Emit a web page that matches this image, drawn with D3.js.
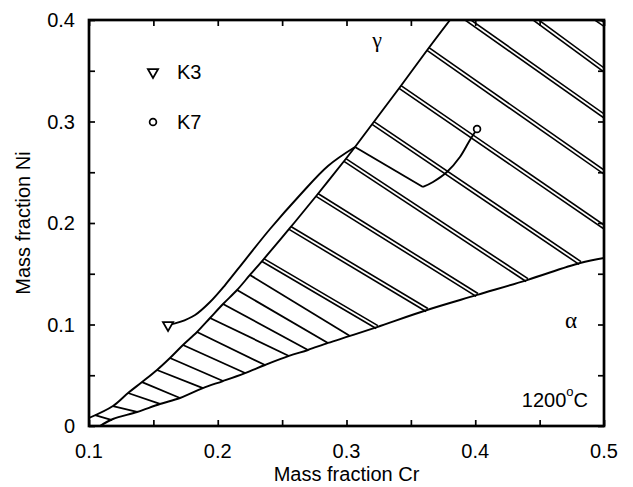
<!DOCTYPE html>
<html>
  <head>
    <title>Cr-Ni section at 1200C</title>
    <script src="https://d3js.org/d3.v7.min.js" charset="utf-8"></script>
    <style type="text/css">
      body { margin: 0; background: #fff; }
      text { font-family: "Liberation Sans", Arial, sans-serif; fill: #000; }
    </style>
  </head>
  <body>
    <script type="text/javascript">

      // Chart data (mass fractions)
      var xTicks = [0.1, 0.2, 0.3, 0.4, 0.5];
      var yTicks = [0, 0.1, 0.2, 0.3, 0.4];
      var yTickLabels = ["0", "0.1", "0.2", "0.3", "0.4"];

      // gamma phase boundary [Cr, Ni]
      var gammaLine = [[0.1, 0.0079], [0.1186, 0.0197], [0.1303, 0.0325], [0.1412, 0.0433],
        [0.1528, 0.0552], [0.1629, 0.067], [0.173, 0.0798], [0.1839, 0.0926], [0.194, 0.1064],
        [0.2041, 0.1202], [0.215, 0.134], [0.225, 0.1488], [0.2351, 0.1635], [0.2561, 0.1951],
        [0.2771, 0.2276], [0.2988, 0.2621], [0.3066, 0.2749], [0.3206, 0.2985], [0.3416, 0.334],
        [0.3633, 0.3714], [0.3804, 0.4]];

      // alpha phase boundary [Cr, Ni]
      var alphaLine = [[0.1085, 0], [0.1186, 0.0069], [0.1373, 0.0138], [0.1551, 0.0217],
        [0.1707, 0.0276], [0.1885, 0.0374], [0.2041, 0.0443], [0.2212, 0.0522], [0.2367, 0.0601],
        [0.2553, 0.069], [0.2701, 0.0749], [0.2856, 0.0818], [0.3027, 0.0887], [0.3237, 0.0975],
        [0.3625, 0.1143], [0.4014, 0.1291], [0.4402, 0.1438], [0.4814, 0.1606], [0.5, 0.1655]];

      // tie lines drawn double [Cr1, Ni1, Cr2, Ni2]
      var tieDouble = [[0.4837, 0.4099, 0.5078, 0.389], [0.4355, 0.4108, 0.5078, 0.3435],
        [0.3827, 0.4104, 0.5078, 0.2985], [0.3633, 0.3714, 0.5078, 0.2433],
        [0.3416, 0.334, 0.5078, 0.1893], [0.3206, 0.2985, 0.4814, 0.1606],
        [0.2988, 0.2621, 0.4402, 0.1438], [0.2771, 0.2276, 0.4014, 0.1291],
        [0.2561, 0.1951, 0.3625, 0.1143], [0.2351, 0.1635, 0.3237, 0.0975]];

      // tie lines drawn single
      var tieSingle = [[0.225, 0.1488, 0.3027, 0.0887], [0.215, 0.134, 0.2856, 0.0818],
        [0.2041, 0.1202, 0.2701, 0.0749], [0.194, 0.1064, 0.2553, 0.069],
        [0.1839, 0.0926, 0.2367, 0.0601], [0.173, 0.0798, 0.2212, 0.0522],
        [0.1629, 0.067, 0.2041, 0.0443], [0.1528, 0.0552, 0.1885, 0.0374],
        [0.1412, 0.0433, 0.1707, 0.0276], [0.1303, 0.0325, 0.1551, 0.0217],
        [0.1186, 0.0197, 0.1373, 0.0138], [0.1047, 0.0108, 0.1179, 0.0059]];

      // diffusion paths
      var k3Path = [[0.1614, 0.0995], [0.1707, 0.1025], [0.1824, 0.1094], [0.1940, 0.1222],
        [0.2057, 0.1389], [0.2212, 0.1635], [0.2406, 0.1941], [0.2639, 0.2276],
        [0.2856, 0.2562], [0.3066, 0.2749]];
      var k7Path = [[0.4014, 0.2926], [0.3959, 0.2818], [0.3881, 0.265], [0.378, 0.2502],
        [0.3672, 0.2404], [0.3594, 0.2355]];
      var k7Tie = [[0.3594, 0.2355], [0.3066, 0.2749]];

      var width = 633;
      var height = 487;
      var margin = {left: 89, right: 29, top: 20, bottom: 61};
      var fontSize = "20px";

      var x = d3.scaleLinear().domain([0.1, 0.5]).range([margin.left, width - margin.right]);
      var y = d3.scaleLinear().domain([0, 0.4]).range([height - margin.bottom, margin.top]);

      var svg = d3.select("body")
          .append("svg")
          .attr("width", width)
          .attr("height", height);

      svg.append("clipPath").attr("id", "plotclip")
        .append("rect")
          .attr("x", x(0.1)).attr("y", y(0.4))
          .attr("width", x(0.5) - x(0.1)).attr("height", y(0) - y(0.4));

      var plot = svg.append("g").attr("clip-path", "url(#plotclip)");

      // double tie lines: thick black with a white core
      plot.selectAll(".tieOuter").data(tieDouble).enter().append("line")
          .attr("x1", function(d) { return x(d[0]); })
          .attr("y1", function(d) { return y(d[1]); })
          .attr("x2", function(d) { return x(d[2]); })
          .attr("y2", function(d) { return y(d[3]); })
          .style("stroke", "#000").style("stroke-width", 5);
      plot.selectAll(".tieInner").data(tieDouble).enter().append("line")
          .attr("x1", function(d) { return x(d[0]); })
          .attr("y1", function(d) { return y(d[1]); })
          .attr("x2", function(d) { return x(d[2]); })
          .attr("y2", function(d) { return y(d[3]); })
          .style("stroke", "#fff").style("stroke-width", 1.8);

      plot.selectAll(".tieSingle").data(tieSingle).enter().append("line")
          .attr("x1", function(d) { return x(d[0]); })
          .attr("y1", function(d) { return y(d[1]); })
          .attr("x2", function(d) { return x(d[2]); })
          .attr("y2", function(d) { return y(d[3]); })
          .style("stroke", "#000").style("stroke-width", 1.8);

      var smooth = d3.line()
          .x(function(d) { return x(d[0]); })
          .y(function(d) { return y(d[1]); })
          .curve(d3.curveCatmullRom);
      var straight = d3.line()
          .x(function(d) { return x(d[0]); })
          .y(function(d) { return y(d[1]); });

      [gammaLine, alphaLine, k3Path, k7Path].forEach(function(p) {
        plot.append("path").attr("d", smooth(p))
            .style("fill", "none").style("stroke", "#000").style("stroke-width", 1.9);
      });
      plot.append("path").attr("d", straight(k7Tie))
          .style("fill", "none").style("stroke", "#000").style("stroke-width", 1.9);

      // markers
      var tri = d3.symbol().type(d3.symbolTriangle).size(46);
      plot.append("path").attr("d", tri())
          .attr("transform", "translate(" + x(k3Path[0][0]) + "," + y(k3Path[0][1]) + ") rotate(180)")
          .style("fill", "#fff").style("stroke", "#000").style("stroke-width", 1.7);
      plot.append("circle")
          .attr("cx", x(k7Path[0][0])).attr("cy", y(k7Path[0][1])).attr("r", 3.4)
          .style("fill", "#fff").style("stroke", "#000").style("stroke-width", 1.7);

      // legend
      svg.append("path").attr("d", tri())
          .attr("transform", "translate(153,72) rotate(180)")
          .style("fill", "#fff").style("stroke", "#000").style("stroke-width", 1.7);
      svg.append("text").attr("x", 177).attr("y", 79).style("font-size", fontSize).text("K3");
      svg.append("circle").attr("cx", 153).attr("cy", 122).attr("r", 3.4)
          .style("fill", "#fff").style("stroke", "#000").style("stroke-width", 1.7);
      svg.append("text").attr("x", 177).attr("y", 129).style("font-size", fontSize).text("K7");

      // phase labels
      svg.append("text").attr("x", 377).attr("y", 47).attr("text-anchor", "middle")
          .style("font-family", "'Liberation Serif', serif").style("font-size", "22px").text("γ");
      svg.append("text").attr("x", 571).attr("y", 328).attr("text-anchor", "middle")
          .style("font-family", "'Liberation Serif', serif").style("font-size", "23px").text("α");

      var temp = svg.append("text").attr("x", 588).attr("y", 407)
          .attr("text-anchor", "end").style("font-size", fontSize);
      temp.append("tspan").text("1200");
      temp.append("tspan").attr("dy", -11).style("font-size", "13px").text("o");
      temp.append("tspan").attr("dy", 11).text("C");

      // axes with inward ticks on all four sides
      var xMinor = d3.range(0.1, 0.5001, 0.05);
      var yMinor = d3.range(0, 0.4001, 0.05);
      var tickLen = 6;

      svg.append("g").attr("transform", "translate(0," + y(0) + ")")
          .call(d3.axisBottom(x).tickValues(xMinor).tickSize(-tickLen).tickFormat(""));
      svg.append("g").attr("transform", "translate(0," + y(0.4) + ")")
          .call(d3.axisTop(x).tickValues(xMinor).tickSize(-tickLen).tickFormat(""));
      svg.append("g").attr("transform", "translate(" + x(0.1) + ",0)")
          .call(d3.axisLeft(y).tickValues(yMinor).tickSize(-tickLen).tickFormat(""));
      svg.append("g").attr("transform", "translate(" + x(0.5) + ",0)")
          .call(d3.axisRight(y).tickValues(yMinor).tickSize(-tickLen).tickFormat(""));

      svg.selectAll(".domain").remove();
      svg.selectAll(".tick line").style("stroke", "#000").style("stroke-width", 1.7);

      svg.append("rect")
          .attr("x", x(0.1)).attr("y", y(0.4))
          .attr("width", x(0.5) - x(0.1)).attr("height", y(0) - y(0.4))
          .style("fill", "none").style("stroke", "#000").style("stroke-width", 2.7);

      // tick labels
      svg.selectAll(".xlab").data(xTicks).enter().append("text")
          .attr("x", function(d) { return x(d); })
          .attr("y", y(0) + 32)
          .attr("text-anchor", "middle")
          .style("font-size", fontSize)
          .text(function(d) { return d3.format(".1f")(d); });

      svg.selectAll(".ylab").data(yTicks).enter().append("text")
          .attr("x", x(0.1) - 14)
          .attr("y", function(d) { return y(d) + 7; })
          .attr("text-anchor", "end")
          .style("font-size", fontSize)
          .text(function(d, i) { return yTickLabels[i]; });

      // axis titles
      svg.append("text")
          .attr("x", (x(0.1) + x(0.5)) / 2).attr("y", 481)
          .attr("text-anchor", "middle").style("font-size", fontSize)
          .text("Mass fraction Cr");
      svg.append("text")
          .attr("transform", "translate(30," + (y(0) + y(0.4)) / 2 + ") rotate(-90)")
          .attr("text-anchor", "middle").style("font-size", fontSize)
          .text("Mass fraction Ni");

    </script>
  </body>
</html>
